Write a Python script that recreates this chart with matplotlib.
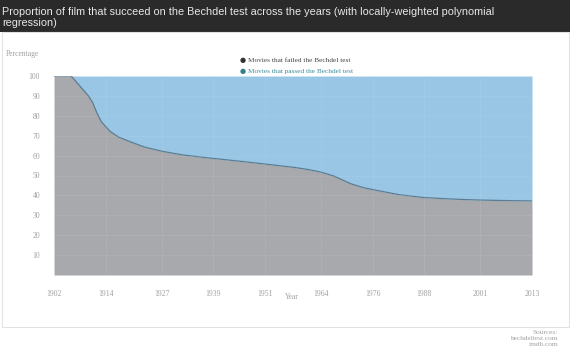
import numpy as np
import matplotlib.pyplot as plt
from matplotlib.patches import Rectangle

# share of films failing the test (loess fit), in percent
years = [1902, 1906, 1908, 1910, 1911, 1912, 1913, 1915, 1917, 1920, 1923, 1927,
         1932, 1938, 1945, 1950, 1954, 1958, 1961, 1964, 1967, 1971, 1974, 1977,
         1982, 1988, 1994, 2000, 2007, 2013]
failed = [100, 100, 95.0, 90.0, 86.5, 81.3, 77.0, 72.2, 69.3, 66.7, 64.3, 62.2,
          60.3, 58.8, 57.2, 56.0, 55.0, 54.0, 53.0, 51.7, 49.7, 45.8, 43.8, 42.5,
          40.4, 38.9, 38.2, 37.7, 37.4, 37.2]
xticks = [1902, 1914, 1927, 1939, 1951, 1964, 1976, 1988, 2001, 2013]
yticks = [10, 20, 30, 40, 50, 60, 70, 80, 90, 100]
sources = ["Sources:", "bechdeltest.com", "imdb.com"]

W, H = 570, 348
fig = plt.figure(figsize=(W / 100, H / 100), dpi=100)
fig.patch.set_facecolor('white')

# dark title band
fig.patches.append(Rectangle((0, 1 - 32 / H), 1, 32 / H, transform=fig.transFigure,
                             facecolor='#2a2a2a', edgecolor='none', zorder=0))
fig.text(2 / W, 1 - 7 / H, "Proportion of film that succeed on the Bechdel test across the years (with locally-weighted polynomial\nregression)",
         color='#e8e8e8', fontsize=7.8, family='Liberation Sans', va='top', ha='left',
         linespacing=1.12)

# light frame around the chart panel
fig.patches.append(Rectangle((1.5 / W, 1 - 327 / H), 567 / W, 295 / H, transform=fig.transFigure,
                             facecolor='none', edgecolor='#e2e2e2', lw=0.8, zorder=0))

ax = fig.add_axes([54 / W, 1 - 275 / H, 478 / W, 199 / H])
ax.fill_between(years, 0, failed, color='#a7a9ac', lw=0)
ax.fill_between(years, failed, 100, color='#98c6e4', lw=0)
ax.plot(years, failed, color='#5b7c92', lw=0.9)

for t in xticks:
    ax.axvline(t, color='white', alpha=0.07, lw=0.8)
for t in yticks:
    ax.axhline(t, color='white', alpha=0.07, lw=0.8)

ax.set_xlim(1902, 2013)
ax.set_ylim(0, 100)
ax.set_xticks(xticks)
ax.set_yticks(yticks)
ax.tick_params(length=0, labelsize=5.5, labelcolor='#a0a0a0')
ax.tick_params(axis='x', pad=11)
ax.tick_params(axis='y', pad=10)
for lab in ax.get_xticklabels() + ax.get_yticklabels():
    lab.set_family('Liberation Serif')
for s in ax.spines.values():
    s.set_visible(False)

serif = 'Liberation Serif'
fig.text(292 / W, 1 - 297 / H, "Year", fontsize=5.5, color='#a0a0a0', family=serif, ha='center', va='center')
fig.text(6 / W, 1 - 54 / H, "Percentage", fontsize=5.5, color='#a0a0a0', family=serif, ha='left', va='center')

# legend
fig.text(243 / W, 1 - 60 / H, "\u25cf", fontsize=5, color='#333333', ha='center', va='center')
fig.text(248 / W, 1 - 60 / H, "Movies that failed the Bechdel test", fontsize=5.2, color='#444444', family=serif, ha='left', va='center')
fig.text(243 / W, 1 - 71 / H, "\u25cf", fontsize=5, color='#2f7f8f', ha='center', va='center')
fig.text(248 / W, 1 - 71 / H, "Movies that passed the Bechdel test", fontsize=5.2, color='#3b8a9c', family=serif, ha='left', va='center')

for i, s in enumerate(sources):
    fig.text(558 / W, 1 - (332 + 6.5 * i) / H, s, fontsize=5.2, color='#a0a0a0', family=serif, ha='right', va='center')

fig.savefig('out.png', dpi=100, facecolor='white')
